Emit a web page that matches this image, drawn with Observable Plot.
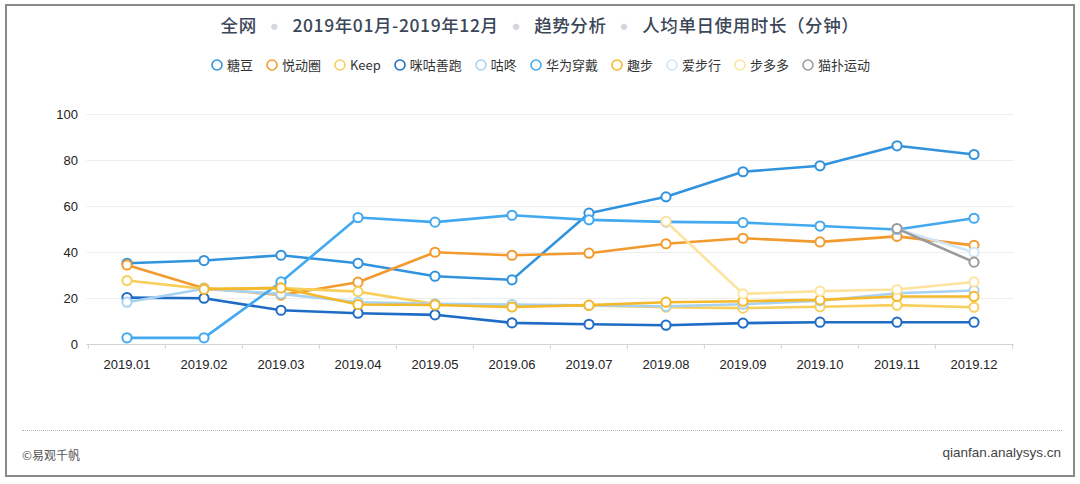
<!DOCTYPE html>
<html>
<head>
<meta charset="utf-8">
<script src="https://cdn.jsdelivr.net/npm/d3@7"></script>
<script src="https://cdn.jsdelivr.net/npm/@observablehq/plot@0.6"></script>
<style>
  html, body { margin: 0; padding: 0; background: #fff; }
  body { width: 1080px; height: 484px; position: relative; overflow: hidden;
         font-family: "Noto Sans CJK SC", "Noto Sans", sans-serif; }
  #frame { position: absolute; left: 5px; top: 4px; width: 1066px; height: 469px;
           border: 2.5px solid #8a8a8a; box-sizing: content-box; }
  #title { position: absolute; top: 12px; left: 0; width: 1080px; text-align: center;
           font-size: 17.5px; color: #3b4758; font-weight: 500; letter-spacing: 0.6px; }
  #title .sep { color: #d3d7dd; font-size: 7px; margin: 0 14px; vertical-align: 3px; }
  #legend { position: absolute; top: 55px; left: 0; width: 1080px; display: flex;
            justify-content: center; font-size: 13px; color: #333; }
  #legend .item { display: flex; align-items: center; margin: 0 6px; }
  #legend svg { margin-right: 3px; }
  #chart { position: absolute; left: 0; top: 90px; }
  #dots { position: absolute; left: 22px; top: 430px; width: 1040px; border-top: 1px dotted #b5b5b5; }
  #src1 { position: absolute; left: 22px; top: 446px; font-size: 12px; color: #555; }
  #src2 { position: absolute; right: 19px; top: 445px; font-size: 13.5px; color: #444;
          font-family: "Liberation Sans", Arial, sans-serif; }
</style>
</head>
<body>
<div id="frame"></div>
<div id="title"></div>
<div id="legend"></div>
<div id="chart"></div>
<div id="dots"></div>
<div id="src1">©易观千帆</div>
<div id="src2">qianfan.analysys.cn</div>
<script>
const titleParts = ["全网", "2019年01月-2019年12月", "趋势分析", "人均单日使用时长（分钟）"];
const months = ["2019.01","2019.02","2019.03","2019.04","2019.05","2019.06","2019.07","2019.08","2019.09","2019.10","2019.11","2019.12"];
const seriesNames = ["糖豆","悦动圈","Keep","咪咕善跑","咕咚","华为穿戴","趣步","爱步行","步多多","猫扑运动"];
const seriesColors = ["#3193dd","#f39a2e","#f8cf5c","#1e6cc6","#a8d2f2","#42a9f0","#f5b82a","#cfe6f8","#fde39e","#9a9a9a"];
const yTicks = [0, 20, 40, 60, 80, 100];

const tangdou   = [35.3, 36.5, 38.8, 35.3, 29.7, 28.1, 57.1, 64.2, 75.1, 77.7, 86.4, 82.6];
const yuedong   = [34.6, 24.5, 21.5, 27.1, 40.1, 38.8, 39.7, 43.8, 46.2, 44.6, 47.0, 43.1];
const keep      = [27.8, 24.2, 24.5, 23.0, 17.6, 16.9, 17.0, 16.2, 15.8, 16.4, 17.1, 16.2];
const migu      = [20.4, 20.1, 14.9, 13.6, 12.9, 9.4, 8.8, 8.4, 9.3, 9.7, 9.7, 9.7];
const gudong    = [18.4, 24.2, 22.0, 18.4, 17.7, 17.4, 17.0, 16.6, 17.5, 19.0, 22.3, 23.5];
const huawei    = [2.9, 2.9, 27.2, 55.2, 53.2, 56.2, 54.2, 53.3, 53.0, 51.5, 50.0, 54.9];
const qubu      = [null, 24.0, 24.6, 17.4, 17.2, 16.3, 17.1, 18.4, 18.8, 19.4, 20.9, 20.9];
const aibuxing  = [null, null, null, null, null, null, null, null, null, null, 50.2, 40.1];
const buduoduo  = [null, null, null, null, null, null, null, 53.5, 22.0, 23.2, 23.9, 27.2];
const maopu     = [null, null, null, null, null, null, null, null, null, null, 50.4, 35.8];
const seriesValues = [tangdou, yuedong, keep, migu, gudong, huawei, qubu, aibuxing, buduoduo, maopu];

// Title
const titleEl = document.getElementById("title");
titleEl.innerHTML = titleParts.map(t => `<span>${t}</span>`).join('<span class="sep">●</span>');

// Legend
const legendEl = document.getElementById("legend");
seriesNames.forEach((n, i) => {
  const item = document.createElement("div");
  item.className = "item";
  item.innerHTML = `<svg width="14" height="14"><circle cx="7" cy="7" r="5" fill="#fff" stroke="${seriesColors[i]}" stroke-width="1.6"/></svg><span>${n}</span>`;
  legendEl.appendChild(item);
});

// Data table
const data = [];
seriesNames.forEach((name, si) => {
  seriesValues[si].forEach((v, mi) => {
    if (v != null) data.push({series: name, month: months[mi], value: v});
  });
});

const W = 1080, H = 300, ML = 86.4, MR = 66.4, MT = 24, MB = 46;
const bw = (W - ML - MR) / months.length;

const marks = [
  Plot.gridY(yTicks, {stroke: "#eeeeee", strokeOpacity: 1}),
  Plot.axisY(yTicks, {tickSize: 0, tickPadding: 9, fontSize: 13, fill: "#222", label: null}),
  Plot.ruleY([0], {stroke: "#cfd3d8"}),
  Plot.axisX(months, {tickSize: 5, tickFormat: () => "", dx: -bw / 2, stroke: "#cfd3d8", label: null}),
  Plot.axisX([months[months.length - 1]], {tickSize: 5, tickFormat: () => "", dx: bw / 2, stroke: "#cfd3d8", label: null}),
  Plot.axisX(months, {tickSize: 0, tickPadding: 15, fontSize: 13, fill: "#222", label: null})
];
seriesNames.forEach((name, si) => {
  const d = data.filter(r => r.series === name);
  marks.push(Plot.lineY(d, {x: "month", y: "value", stroke: "series", strokeWidth: 2.6}));
  marks.push(Plot.dot(d, {x: "month", y: "value", stroke: "series", fill: "#fff", r: 4.6, strokeWidth: 2}));
});

const chart = Plot.plot({
  width: W, height: H,
  marginLeft: ML, marginRight: MR, marginTop: MT, marginBottom: MB,
  style: {fontFamily: "'Liberation Sans', Arial, sans-serif", fontSize: "13px", color: "#222", background: "transparent"},
  x: {type: "band", domain: months, padding: 0, axis: null, label: null},
  y: {domain: [0, 100], axis: null, label: null},
  color: {domain: seriesNames, range: seriesColors},
  marks
});
document.getElementById("chart").appendChild(chart);
</script>
</body>
</html>
